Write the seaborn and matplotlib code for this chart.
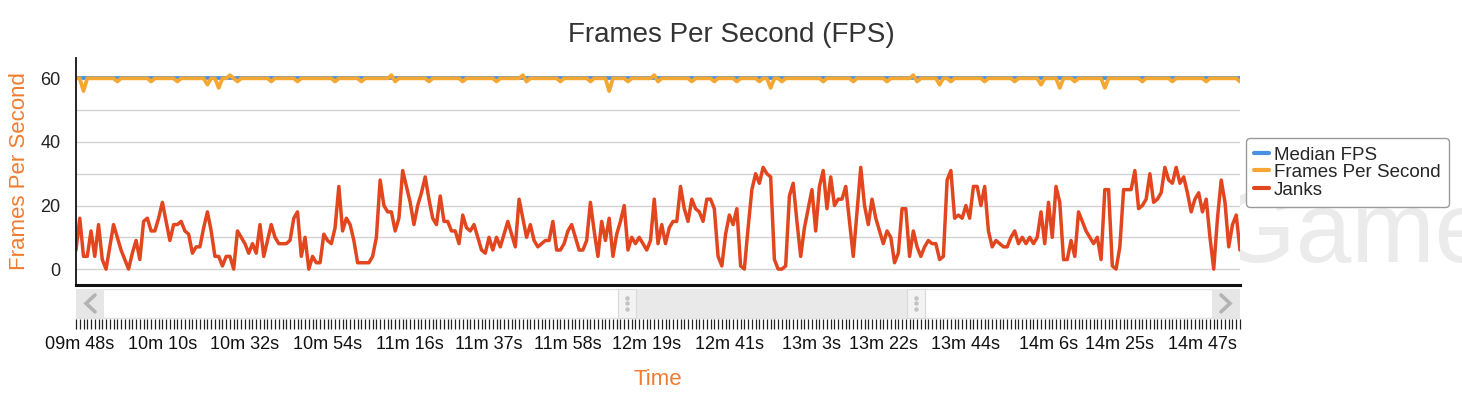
import numpy as np
import pandas as pd
import matplotlib
matplotlib.use("Agg")
import matplotlib.pyplot as plt
from matplotlib.patches import Rectangle
from matplotlib.lines import Line2D
import seaborn as sns

# ---------------- data ----------------
start_s = 587  # first sample, in seconds (1 sample per second)

janks = [
    6, 16, 4, 4, 12, 4, 14, 3, 0, 7, 14, 10, 6, 3, 0, 5, 9, 3, 15, 16,
    12, 12, 16, 21, 15, 9, 14, 14, 15, 12, 11, 5, 7, 7, 13, 18, 12, 4, 4, 1,
    4, 4, 0, 12, 10, 8, 5, 8, 5, 14, 4, 9, 14, 10, 8, 8, 8, 9, 16, 18,
    4, 10, 0, 4, 2, 2, 11, 9, 8, 13, 26, 12, 16, 14, 9, 2, 2, 2, 2, 4,
    10, 28, 20, 18, 18, 12, 16, 31, 26, 21, 14, 20, 24, 29, 22, 16, 14, 23, 15, 15,
    12, 12, 8, 17, 13, 12, 14, 10, 6, 5, 10, 6, 10, 7, 11, 15, 11, 7, 22, 16,
    10, 14, 9, 7, 8, 9, 9, 15, 6, 6, 8, 12, 14, 10, 6, 6, 9, 21, 12, 4,
    15, 9, 16, 4, 11, 15, 20, 6, 10, 8, 10, 8, 6, 9, 22, 8, 14, 8, 13, 15,
    15, 26, 19, 15, 22, 19, 18, 15, 22, 22, 19, 4, 1, 11, 17, 14, 19, 1, 0, 13,
    25, 30, 27, 32, 30, 29, 3, 0, 0, 1, 23, 27, 15, 4, 13, 19, 25, 12, 26, 31,
    19, 29, 20, 22, 22, 26, 15, 4, 18, 32, 20, 14, 22, 16, 12, 8, 12, 10, 2, 5,
    19, 19, 4, 12, 7, 4, 7, 9, 8, 8, 3, 4, 28, 31, 16, 17, 16, 20, 16, 26,
    26, 20, 26, 12, 7, 9, 8, 7, 7, 10, 12, 8, 10, 8, 10, 8, 10, 18, 8, 21,
    10, 26, 21, 3, 3, 9, 4, 18, 15, 12, 10, 8, 10, 3, 25, 25, 1, 0, 7, 25,
    25, 25, 31, 19, 20, 22, 30, 21, 22, 24, 32, 28, 27, 32, 27, 29, 24, 18, 22, 24,
    18, 22, 10, 0, 16, 28, 21, 7, 14, 17, 6,
]

fps = [
    60, 60, 56, 60, 60, 60, 60, 60, 60, 60, 60, 59, 60, 60, 60, 60, 60, 60, 60, 60,
    59, 60, 60, 60, 60, 60, 60, 59, 60, 60, 60, 60, 60, 60, 60, 58, 60, 60, 57, 60,
    60, 61, 60, 59, 60, 60, 60, 60, 60, 60, 60, 60, 59, 60, 60, 60, 60, 60, 60, 59,
    60, 60, 60, 60, 60, 60, 60, 60, 60, 59, 60, 60, 60, 60, 60, 60, 59, 60, 60, 60,
    60, 60, 60, 60, 61, 59, 60, 60, 60, 60, 60, 60, 60, 60, 59, 60, 60, 60, 60, 60,
    60, 60, 60, 59, 60, 60, 60, 60, 60, 60, 60, 60, 59, 60, 60, 60, 60, 60, 60, 61,
    59, 60, 60, 60, 60, 60, 60, 60, 60, 59, 60, 60, 60, 60, 60, 60, 60, 59, 60, 60,
    60, 60, 56, 60, 60, 60, 60, 59, 60, 60, 60, 60, 60, 60, 61, 59, 60, 60, 60, 60,
    60, 60, 60, 60, 59, 60, 60, 60, 60, 60, 59, 60, 60, 60, 60, 60, 59, 60, 60, 60,
    60, 60, 59, 60, 60, 57, 60, 60, 59, 60, 60, 60, 60, 60, 60, 60, 60, 60, 60, 59,
    60, 60, 60, 60, 60, 60, 60, 59, 60, 60, 60, 60, 60, 60, 60, 60, 59, 60, 60, 60,
    60, 60, 60, 61, 59, 60, 60, 60, 60, 60, 58, 60, 60, 59, 60, 60, 60, 60, 60, 60,
    60, 60, 59, 60, 60, 60, 60, 60, 60, 60, 59, 60, 60, 60, 60, 60, 60, 58, 60, 60,
    60, 60, 57, 60, 60, 60, 59, 60, 60, 60, 60, 60, 60, 60, 57, 60, 60, 60, 60, 60,
    60, 60, 60, 60, 59, 60, 60, 60, 60, 60, 60, 60, 59, 60, 60, 60, 60, 60, 60, 60,
    60, 59, 60, 60, 60, 60, 60, 60, 60, 60, 59,
]

median_value = 60

tick_seconds = [588, 610, 632, 654, 676, 697, 718, 739, 761, 783, 802, 824, 846, 865, 887]
tick_labels = [f"{s // 60:02d}m {s % 60}s" for s in tick_seconds]

series_names = ["Median FPS", "Frames Per Second", "Janks"]
series_colors = ["#4A90E2", "#F5A733", "#E2461F"]
label_orange = "#F07B2E"

# ---------------- frame ----------------
n = len(janks)
time_s = np.arange(start_s, start_s + n)
df = pd.DataFrame({
    "time": time_s,
    "Median FPS": np.full(n, median_value),
    "Frames Per Second": fps,
    "Janks": janks,
})

sns.set_style("white")
plt.rcParams["font.family"] = ["Liberation Sans", "DejaVu Sans"]

W, H = 1462, 399
fig = plt.figure(figsize=(W / 100, H / 100), dpi=100)
fig.patch.set_facecolor("white")

L, R, T, B = 76, 1240, 58, 285
ax = fig.add_axes([L / W, 1 - B / H, (R - L) / W, (B - T) / H])

for name, col, lw in zip(series_names, series_colors, [2.7, 2.7, 2.5]):
    sns.lineplot(data=df, x="time", y=name, ax=ax, color=col, linewidth=lw,
                 legend=False, solid_joinstyle="round", solid_capstyle="round")

ax.set_xlim(start_s, start_s + n - 1)
ax.set_ylim(-5, 66.4)
ax.set_yticks([0, 20, 40, 60])
ax.set_yticks([10, 30, 50], minor=True)
ax.set_axisbelow(True)
ax.grid(which="both", axis="y", color="#d2d2d2", linewidth=1.0)
ax.grid(False, axis="x")
ax.tick_params(axis="y", which="both", length=0, pad=11, labelsize=13, labelcolor="#222222")
ax.tick_params(axis="x", which="both", bottom=False, labelbottom=False)
ax.set_xlabel("")
ax.set_ylabel("Frames Per Second", fontsize=16, color=label_orange)
ax.yaxis.set_label_coords(-0.0485, 0.5)
ax.yaxis.label.set_va("center")
for s in ["top", "right"]:
    ax.spines[s].set_visible(False)
ax.spines["left"].set_color("#111111")
ax.spines["left"].set_linewidth(1.3)
ax.spines["bottom"].set_color("#111111")
ax.spines["bottom"].set_linewidth(2.2)

# ---------------- scrollbar + time axis ----------------
sb_top, sb_bot = 289, 319
ax2 = fig.add_axes([L / W, 1 - sb_bot / H, (R - L) / W, (sb_bot - sb_top) / H])
ax2.set_xlim(start_s, start_s + n - 1)
ax2.set_ylim(0, 1)
for s in ax2.spines.values():
    s.set_visible(False)
ax2.set_yticks([])

def fx(px):
    return (px - L) / (R - L)

y0, h = 0.04, 0.96
ax2.add_patch(Rectangle((0, y0), 1, h, transform=ax2.transAxes,
                        facecolor="white", edgecolor="#e2e2e2", lw=1))
ax2.add_patch(Rectangle((fx(620), y0), fx(925) - fx(620), h, transform=ax2.transAxes,
                        facecolor="#e9e9e9", edgecolor="none"))
for hx in (618, 907):
    ax2.add_patch(Rectangle((fx(hx), y0), fx(hx + 18) - fx(hx), h, transform=ax2.transAxes,
                            facecolor="#f3f3f3", edgecolor="#d9d9d9", lw=0.8))
    ax2.scatter([fx(hx + 9)] * 3, [0.35, 0.52, 0.69], transform=ax2.transAxes,
                s=5, color="#c4c4c4", zorder=5)
ax2.add_patch(Rectangle((0, y0), fx(104), h, transform=ax2.transAxes,
                        facecolor="#e6e6e6", edgecolor="none"))
ax2.add_patch(Rectangle((fx(1212), y0), 1 - fx(1212), h, transform=ax2.transAxes,
                        facecolor="#e6e6e6", edgecolor="none"))
ax2.plot([fx(95), fx(86), fx(95)], [0.8, 0.52, 0.24], transform=ax2.transAxes,
         color="#b3b3b3", lw=2.6, solid_capstyle="round", solid_joinstyle="miter")
ax2.plot([fx(1221), fx(1230), fx(1221)], [0.8, 0.52, 0.24], transform=ax2.transAxes,
         color="#b3b3b3", lw=2.6, solid_capstyle="round", solid_joinstyle="miter")

ax2.set_xticks(tick_seconds)
ax2.set_xticklabels(tick_labels)
ax2.set_xticks(time_s, minor=True)
ax2.tick_params(axis="x", which="both", bottom=True, direction="out", length=7, width=0.9,
                color="#222222", pad=5, labelsize=13, labelcolor="#111111")
ax2.set_xlabel("Time", fontsize=16, color=label_orange, labelpad=12)

# ---------------- title, watermark, legend ----------------
fig.text(0.5, 1 - 35 / H, "Frames Per Second (FPS)", ha="center", va="center",
         fontsize=20, color="#333333")
fig.text(1218 / W, 1 - 262 / H, "Game", fontsize=72, color="#ebebeb",
         ha="left", va="baseline", zorder=-1)

handles = [Line2D([0], [0], color=c, lw=3) for c in series_colors]
leg = fig.legend(handles, series_names, loc="center left",
                 bbox_to_anchor=(1246 / W, 1 - 172.5 / H), bbox_transform=fig.transFigure,
                 frameon=True, fancybox=True, fontsize=13.5, handlelength=0.75,
                 handletextpad=0.3, labelspacing=0.02, borderpad=0.45, borderaxespad=0)
leg.get_frame().set_edgecolor("#9a9a9a")
leg.get_frame().set_linewidth(1.0)
leg.get_frame().set_facecolor("white")
leg.get_frame().set_alpha(1.0)
leg.set_zorder(10)

fig.savefig("out.png", dpi=100, facecolor="white")
